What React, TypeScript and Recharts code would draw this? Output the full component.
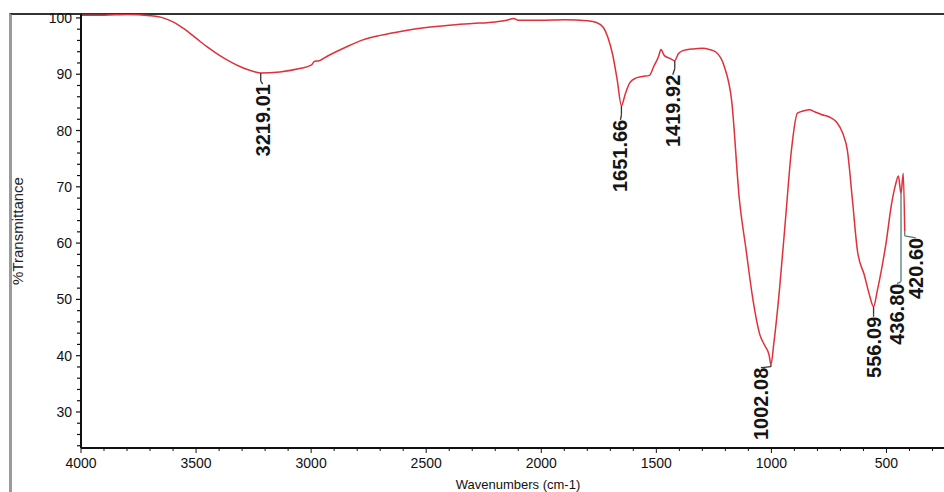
import { LineChart, Line, XAxis, YAxis, ReferenceDot } from "recharts"

const wavenumbers = [
  4000, 3900, 3800, 3700, 3650, 3600, 3550, 3500, 3450, 3400, 3350, 3300, 3250, 3219.01, 3136, 3050,
  3000, 2985, 2965, 2930, 2850, 2775, 2700, 2600, 2500, 2400, 2300, 2200, 2150, 2120, 2100, 2000,
  1900, 1800, 1760, 1730, 1710, 1690, 1670, 1651.66, 1635, 1615, 1590, 1560, 1530, 1510, 1490, 1480,
  1465, 1440, 1419.92, 1405, 1385, 1340, 1300, 1270, 1240, 1204, 1173, 1139, 1110, 1080, 1050, 1030,
  1010, 1002.08, 990, 965, 939, 913, 887, 860, 835, 810, 780, 748, 717, 690, 670, 648, 626, 596, 574,
  556.09, 540, 522, 500, 479, 461, 448, 436.8, 427, 420.6,
]
const transmittance = [
  100.5, 100.5, 100.6, 100.4, 100.1, 99.3, 98.0, 96.4, 94.8, 93.4, 92.2, 91.2, 90.5, 90.2, 90.4, 91.0,
  91.6, 92.3, 92.4, 93.2, 94.8, 96.1, 96.9, 97.7, 98.3, 98.7, 99.0, 99.3, 99.6, 99.9, 99.6, 99.6,
  99.7, 99.5, 99.2, 98.3, 96.5, 93.5, 89.0, 84.4, 86.5, 88.5, 89.3, 89.6, 89.8, 91.5, 93.2, 94.4,
  93.3, 92.8, 92.4, 93.6, 94.2, 94.5, 94.6, 94.4, 93.9, 91.3, 85.4, 67.7, 58.8, 49.9, 43.7, 41.9,
  40.1, 38.4, 42.0, 51.7, 64.1, 76.5, 83.1, 83.5, 83.7, 83.3, 82.8, 82.4, 81.5, 79.5, 76.5, 67.7, 58.6, 54.3, 50.8,
  48.7, 51.5, 55.2, 60.5, 66.7, 70.3, 71.9, 68.8, 72.4, 62.0,
]

const peakWavenumbers = [3219.01, 1651.66, 1419.92, 1002.08, 556.09, 436.8, 420.6]
const peakValues = [90.2, 84.4, 92.4, 38.4, 48.7, 68.8, 62.0]
const peakLabels = ["3219.01", "1651.66", "1419.92", "1002.08", "556.09", "436.80", "420.60"]

const xTicks = [4000, 3500, 3000, 2500, 2000, 1500, 1000, 500]
const yTicks = [30, 40, 50, 60, 70, 80, 90, 100]

const spectrum = wavenumbers.map((wn, i) => ({ wn, t: transmittance[i] }))

// leader length, text offset from leader end, sideways shift of the text
const peakLayout = [
  { lead: 8, gap: 3, dx: 2, color: "#333" },
  { lead: 9, gap: 5, dx: -1, color: "#333" },
  { lead: 8, gap: 6, dx: -2, color: "#333" },
  { lead: 2, gap: 1, dx: -10, color: "#333" },
  { lead: 8, gap: 2, dx: 0, color: "#333" },
  { lead: 88, gap: 2, dx: -4, color: "#4f7d74" },
  { lead: 4, gap: 2, dx: 11, color: "#4f7d74" },
]

const minorX: number[] = []
for (let v = 4000; v >= 300; v -= 100) minorX.push(v)
const minorY: number[] = []
for (let v = 24; v <= 100; v += 2) minorY.push(v)

const font = "'Liberation Sans', Arial, sans-serif"

function XTick(props: any) {
  const { x, y, payload } = props
  const axisY = y - 10
  const major = xTicks.includes(payload.value)
  return (
    <g>
      <line x1={x} x2={x} y1={axisY} y2={axisY + (major ? 5 : 3)} stroke="#111" strokeWidth={1} />
      {major && (
        <text x={x} y={axisY + 20} textAnchor="middle" fontSize={14} fontFamily={font} fill="#111">
          {payload.value}
        </text>
      )}
    </g>
  )
}

function YTick(props: any) {
  const { x, y, payload } = props
  const axisX = x + 10
  const major = yTicks.includes(payload.value)
  return (
    <g>
      <line x1={axisX - (major ? 5 : 4)} x2={axisX} y1={y} y2={y} stroke="#111" strokeWidth={1.2} />
      {major && (
        <text x={axisX - 9} y={y + 5} textAnchor="end" fontSize={14} fontFamily={font} fill="#111">
          {payload.value}
        </text>
      )}
    </g>
  )
}

function peakShape(i: number) {
  return (p: any) => {
    const { cx, cy } = p
    const l = peakLayout[i]
    const ty = cy + l.lead + l.gap
    const tx = cx + l.dx
    return (
      <g>
        <line x1={cx} x2={cx} y1={cy} y2={cy + l.lead} stroke={l.color} strokeWidth={1.3} />
        <line x1={cx} x2={tx} y1={cy + l.lead} y2={ty} stroke={l.color} strokeWidth={1.3} />
        <text
          x={tx}
          y={ty}
          transform={`rotate(-90, ${tx}, ${ty})`}
          textAnchor="end"
          dominantBaseline="central"
          fontSize={20}
          fontWeight="bold"
          fontFamily={font}
          fill="#151515"
        >
          {peakLabels[i]}
        </text>
      </g>
    )
  }
}

export default function App() {
  return (
    <div style={{ position: "absolute", left: 0, top: 0, width: 944, height: 492, background: "#fff" }}>
      <div
        style={{
          position: "absolute",
          left: 9,
          top: 13,
          width: 935,
          height: 479,
          borderTop: "2px solid #333",
          borderLeft: "3px solid #9a9a9a",
          boxSizing: "border-box",
        }}
      />
      <LineChart
        width={944}
        height={492}
        data={spectrum}
        margin={{ top: 14, right: 0, bottom: 0, left: 0 }}
        style={{ position: "absolute", left: 0, top: 0 }}
      >
        <XAxis
          dataKey="wn"
          type="number"
          domain={[250, 4000]}
          reversed
          ticks={minorX}
          interval={0}
          tick={<XTick />}
          tickLine={false}
          tickSize={5}
          tickMargin={5}
          axisLine={{ stroke: "#111", strokeWidth: 2 }}
          height={44}
          label={{
            content: () => (
              <text x={518} y={484} textAnchor="middle" dominantBaseline="central" fontSize={13} fontFamily={font} fill="#111">
                Wavenumbers (cm-1)
              </text>
            ),
          }}
        />
        <YAxis
          type="number"
          domain={[23.6, 100.7]}
          ticks={minorY}
          interval={0}
          tick={<YTick />}
          tickLine={false}
          tickSize={5}
          tickMargin={5}
          axisLine={{ stroke: "#111", strokeWidth: 2 }}
          width={81}
          allowDataOverflow
          label={{
            content: () => (
              <text
                x={17}
                y={231}
                transform="rotate(-90, 17, 231)"
                textAnchor="middle"
                dominantBaseline="central"
                fontSize={15}
                fontFamily={font}
                fill="#222"
              >
                %Transmittance
              </text>
            ),
          }}
        />
        <Line
          type="monotone"
          dataKey="t"
          stroke="#e0303a"
          strokeWidth={1.5}
          dot={false}
          isAnimationActive={false}
        />
        {peakWavenumbers.map((wn, i) => (
          <ReferenceDot key={peakLabels[i]} x={wn} y={peakValues[i]} r={0} shape={peakShape(i)} />
        ))}
      </LineChart>
    </div>
  )
}
